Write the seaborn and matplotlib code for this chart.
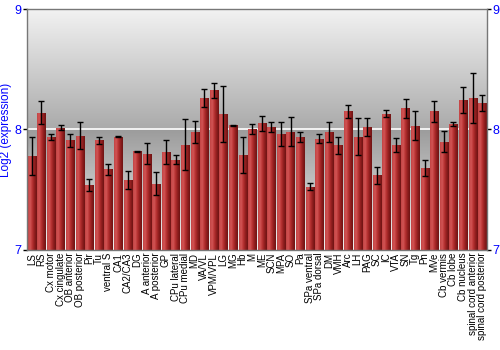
import numpy as np
import pandas as pd
import matplotlib
matplotlib.use("Agg")
import matplotlib.pyplot as plt
import seaborn as sns
from matplotlib.colors import LinearSegmentedColormap

regions = ["LS", "RS", "Cx motor", "Cx cingulate", "OB anterior", "OB posterior", "Pir", "Tu",
           "ventral S", "CA1", "CA2/CA3", "DG", "A anterior", "A posterior", "GP", "CPu lateral",
           "CPu medial", "MD", "VA/VL", "VPM/VPL", "LG", "MG", "Hb", "M", "ME", "SCN", "MPA", "SO",
           "Pa", "SPa ventral", "SPa dorsal", "DM", "VMH", "Arc", "LH", "PAG", "SC", "IC", "VTA",
           "SN", "Tg", "Pn", "MVe", "Cb vermis", "Cb lobe", "Cb nucleus", "spinal cord anterior",
           "spinal cord posterior"]
expression = [7.78, 8.14, 7.935, 8.015, 7.91, 7.95, 7.54, 7.91,
              7.67, 7.94, 7.58, 7.82, 7.80, 7.55, 7.81, 7.75,
              7.875, 7.98, 8.265, 8.325, 8.13, 8.035, 7.79, 8.006, 8.05, 8.02, 7.96, 7.98,
              7.94, 7.525, 7.925, 7.98, 7.87, 8.15, 7.94, 8.02, 7.62, 8.13, 7.87,
              8.175, 8.03, 7.68, 8.15, 7.90, 8.045, 8.245, 8.26,
              8.22]
error = [0.16, 0.095, 0.025, 0.02, 0.055, 0.11, 0.05, 0.03,
         0.045, 0.005, 0.075, 0.005, 0.09, 0.095, 0.10, 0.04,
         0.21, 0.09, 0.075, 0.065, 0.23, 0.005, 0.15, 0.04, 0.06, 0.04, 0.10, 0.12,
         0.04, 0.03, 0.035, 0.08, 0.07, 0.055, 0.155, 0.075, 0.07, 0.03, 0.06,
         0.08, 0.12, 0.07, 0.09, 0.085, 0.015, 0.105, 0.21,
         0.065]
y_ticks = [7, 8, 9]
y_label = "Log2 (expression)"

df = pd.DataFrame({"region": regions, "expression": expression, "error": error})

sns.set_style("white")
plt.rcParams["font.family"] = ["Liberation Sans", "DejaVu Sans"]

fig = plt.figure(figsize=(5, 3.5), dpi=100)
ax = fig.add_axes([0.054, 0.286, 0.92, 0.688])

ymin, ymax = 7, 9
sns.barplot(data=df, x="region", y="expression", color="#b03030", width=0.86,
            errorbar=None, ax=ax, zorder=3, linewidth=0)
ax.set_ylim(ymin, ymax)
ax.set_xlim(-0.5, len(regions) - 0.5)

# error bars
xs = np.arange(len(regions))
ax.errorbar(xs, df["expression"], yerr=df["error"], fmt="none", ecolor="black",
            elinewidth=1.0, capsize=2.2, capthick=1.0, zorder=5)

# background gradient (vertical)
upper = np.linspace(0xaa, 0xf2, 200) / 255.0  # from y=8 up to 9
lower = np.linspace(0xf0, 0x9c, 200) / 255.0  # from y=7 up to 8
col = np.concatenate([lower, upper])
bg = np.stack([col, col, col], axis=-1)[:, None, :]
bg = np.repeat(bg, 2, axis=1)
ax.imshow(bg, extent=[-0.5, len(regions) - 0.5, ymin, ymax], origin="lower",
          aspect="auto", zorder=0, interpolation="bilinear")
ax.axhline(8, color="white", lw=1.2, zorder=1)

# horizontal gradient within bars
cmap = LinearSegmentedColormap.from_list("barg", ["#c24444", "#d25555", "#b53030", "#8e1d1d", "#6e1414"])
grad = np.linspace(0, 1, 64).reshape(1, -1)
for p in ax.patches:
    x0, w = p.get_x(), p.get_width()
    h = p.get_height()
    im = ax.imshow(grad, extent=[x0, x0 + w, ymin, ymin + h], cmap=cmap, aspect="auto",
                   origin="lower", zorder=3.5, interpolation="bilinear")
    im.set_clip_path(p)
ax.set_xlim(-0.5, len(regions) - 0.5)
ax.set_ylim(ymin, ymax)

ax.set_yticks(y_ticks)
ax.set_yticklabels([str(t) for t in y_ticks])
ax.tick_params(axis="y", which="both", left=True, right=True, labelleft=True, labelright=True,
               labelcolor="#0000ff", labelsize=9, length=3, width=1, color="black", pad=1)
ax.tick_params(axis="x", length=0, labelsize=7, pad=2, labelcolor="black")
ax.set_xticks(xs)
ax.set_xticklabels(regions, rotation=90)
ax.set_xlabel("")
ax.set_ylabel(y_label, color="#0000ff", fontsize=8.5, labelpad=2)
for s in ax.spines.values():
    s.set_color("#777777")
    s.set_linewidth(1)
    s.set_zorder(6)

fig.savefig("out.png", dpi=100)
